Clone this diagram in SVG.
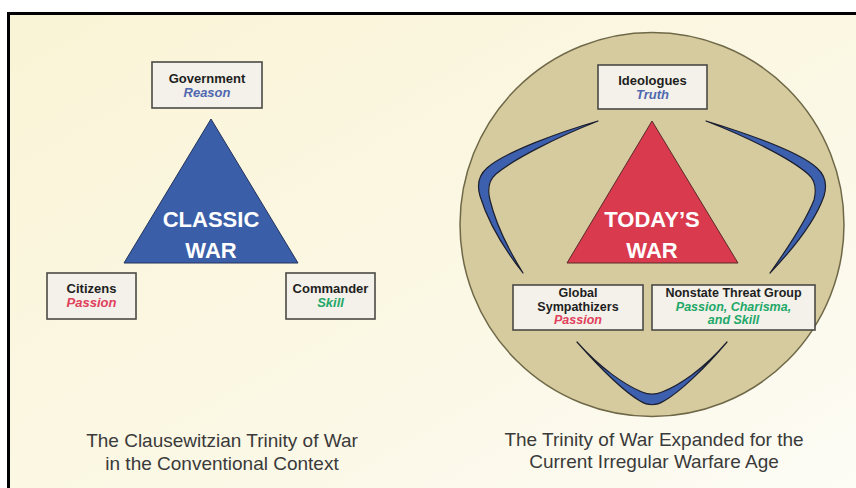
<svg xmlns="http://www.w3.org/2000/svg" width="856" height="488" viewBox="0 0 856 488">
<defs>
<linearGradient id="bg" x1="0" y1="0" x2="1" y2="1">
<stop offset="0" stop-color="#faf4d6"/>
<stop offset="0.6" stop-color="#fbf8e6"/>
<stop offset="1" stop-color="#fdfcf6"/>
</linearGradient>
<style>
.box{fill:#f3f1e9;stroke:#4a4a44;stroke-width:1.6}
.t{font-family:"Liberation Sans",Arial,sans-serif;font-weight:bold;font-size:13px;fill:#1e1e1e;text-anchor:middle}
.i{font-family:"Liberation Sans",Arial,sans-serif;font-weight:bold;font-style:italic;font-size:13px;text-anchor:middle}
.s{font-size:12.5px}
.blue{fill:#5068b0}
.red{fill:#e0405c}
.green{fill:#22a868}
.big{font-family:"Liberation Sans",Arial,sans-serif;font-weight:bold;font-size:22px;fill:#ffffff;text-anchor:middle}
.cap{font-family:"Liberation Sans",Arial,sans-serif;font-size:19px;fill:#3a3a3a;text-anchor:middle}
.cres{fill:#3c5fae;stroke:#1c1f2e;stroke-width:1.2;stroke-linejoin:round}
</style>
</defs>
<rect x="0" y="0" width="856" height="488" fill="#ffffff"/>
<rect x="8" y="13" width="860" height="490" fill="url(#bg)"/>
<path d="M8.5,490 V13.5 H856" fill="none" stroke="#000000" stroke-width="3"/>

<g id="classic-war">
<polygon points="211,119 124,263 298,263" fill="#3a5ea8" stroke="#22335e" stroke-width="1"/>
<text class="big" x="211" y="227">CLASSIC</text>
<text class="big" x="211" y="258">WAR</text>
</g>
<g id="government">
<rect class="box" x="152" y="62" width="110" height="46"/>
<text class="t" x="207" y="83">Government</text>
<text class="i blue" x="207" y="97">Reason</text>
</g>
<g id="citizens">
<rect class="box" x="47" y="273" width="89" height="46"/>
<text class="t" x="91.5" y="293">Citizens</text>
<text class="i red" x="91.5" y="307">Passion</text>
</g>
<g id="commander">
<rect class="box" x="286" y="273" width="89" height="46"/>
<text class="t" x="330.5" y="293">Commander</text>
<text class="i green" x="330.5" y="307">Skill</text>
</g>
<text class="cap" x="222" y="447">The Clausewitzian Trinity of War</text>
<text class="cap" x="222" y="470">in the Conventional Context</text>

<circle id="context-circle" cx="652" cy="224.5" r="192" fill="#d6cb9e" stroke="#6f6848" stroke-width="1.5"/>

<g id="connectors">
<path class="cres" d="M598,121 C560,132 505,152 487,168 C478,176 477,186 480,196 C488,222 505,250 523,273 C510,252 496,225 490,200 C487,188 489,180 496,174 C515,158 560,136 598,121 Z"/>
<path class="cres" d="M706,121 C745,133 800,152 817,168 C826,176 827,186 824,196 C815,222 792,250 770,273 C785,252 804,225 814,200 C817,188 815,180 808,174 C790,158 745,136 706,121 Z"/>
<path class="cres" d="M577,342 C600,368 625,392 640,401 C648,406 656,406 664,401 C680,392 705,368 727,342 C703,370 678,386 662,392 C655,395 649,395 642,392 C625,385 600,368 577,342 Z"/>
</g>

<g id="todays-war">
<polygon points="652,121 567,263 738,263" fill="#d93a4e" stroke="#5a2a2a" stroke-width="1"/>
<text class="big" x="652" y="227">TODAY’S</text>
<text class="big" x="652" y="258">WAR</text>
</g>
<g id="ideologues">
<rect class="box" x="598" y="65" width="109" height="44"/>
<text class="t" x="652.5" y="85">Ideologues</text>
<text class="i blue" x="652.5" y="99">Truth</text>
</g>
<g id="global-sympathizers">
<rect class="box" x="513" y="285" width="130" height="45"/>
<text class="t s" x="578" y="297">Global</text>
<text class="t s" x="578" y="310.5">Sympathizers</text>
<text class="i s red" x="578" y="324">Passion</text>
</g>
<g id="nonstate-threat-group">
<rect class="box" x="652" y="285" width="163" height="45"/>
<text class="t s" x="733.5" y="297">Nonstate Threat Group</text>
<text class="i s green" x="733.5" y="310.5">Passion, Charisma,</text>
<text class="i s green" x="733.5" y="324">and Skill</text>
</g>
<text class="cap" x="654" y="446">The Trinity of War Expanded for the</text>
<text class="cap" x="654" y="468">Current Irregular Warfare Age</text>
</svg>
